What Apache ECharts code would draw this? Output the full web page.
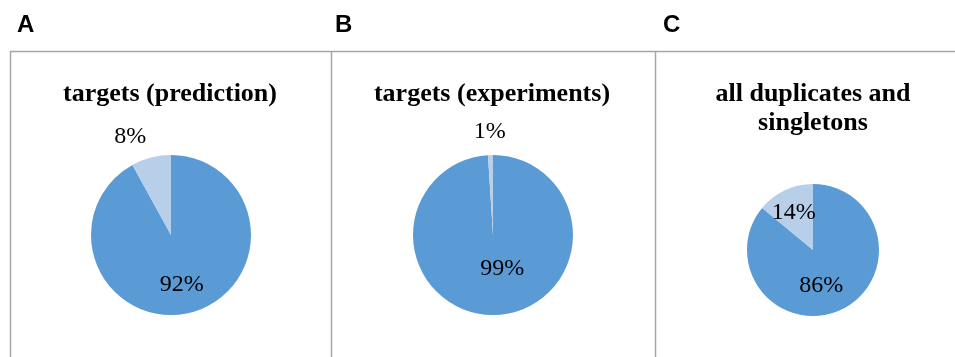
<!DOCTYPE html>
<html>
<head>
<meta charset="utf-8">
<title>Pie panels</title>
<script src="https://cdn.jsdelivr.net/npm/echarts@6/dist/echarts.min.js"></script>
<style>
  html, body { margin: 0; padding: 0; background: #ffffff; }
  #chart { width: 955px; height: 357px; }
</style>
</head>
<body>
<div id="chart"></div>
<script>
// Panel letters and titles
const panelLetters = ['A', 'B', 'C'];
const panelTitles = ['targets (prediction)', 'targets (experiments)', 'all duplicates and\nsingletons'];

// Slice shares (percent) per panel: main share first, remainder second
const mainShare = [92, 99, 86];
const restShare = [8, 1, 14];

const sliceColors = ['#5b9bd5', '#b7cfe9'];
const borderColor = '#a6a6a6';

// Panel geometry (pixels)
const panelLeft = [10, 331, 655];
const panelTop = 51;
const letterX = [17, 335, 663];
const titleX = [170, 492, 813];
const pieCenters = [[171, 235], [493, 235], [813, 250]];
const pieRadii = [80, 80, 66];
// Label nudges relative to the 'inside' anchor: [main, rest]
const labelOffsets = [
  [[0, 8], [-30, -57]],
  [[8, -9], [-2, -60]],
  [[-7, 3], [-4, -5]]
];

const chart = echarts.init(document.getElementById('chart'), null, { renderer: 'canvas' });

const graphics = [];
// frame: top rule and panel separators
graphics.push({
  type: 'line',
  shape: { x1: panelLeft[0], y1: panelTop + 0.5, x2: 955, y2: panelTop + 0.5 },
  style: { stroke: borderColor, lineWidth: 1.5 },
  silent: true
});
panelLeft.forEach(function (x) {
  graphics.push({
    type: 'line',
    shape: { x1: x + 0.5, y1: panelTop, x2: x + 0.5, y2: 357 },
    style: { stroke: borderColor, lineWidth: 1.5 },
    silent: true
  });
});
panelLetters.forEach(function (t, i) {
  graphics.push({
    type: 'text',
    style: {
      text: t, x: letterX[i], y: 25,
      align: 'left', verticalAlign: 'middle',
      font: 'bold 24px "Liberation Sans", Arial, sans-serif',
      fill: '#000000'
    },
    silent: true
  });
});
panelTitles.forEach(function (t, i) {
  graphics.push({
    type: 'text',
    style: {
      text: t, x: titleX[i], y: 80,
      align: 'center', verticalAlign: 'top',
      font: 'bold 26px "Liberation Serif", "Times New Roman", serif',
      lineHeight: 29,
      fill: '#000000'
    },
    silent: true
  });
});

const series = mainShare.map(function (m, i) {
  return {
    type: 'pie',
    center: pieCenters[i],
    radius: [0, pieRadii[i]],
    startAngle: 90,
    clockwise: true,
    animation: false,
    silent: true,
    avoidLabelOverlap: false,
    itemStyle: { borderWidth: 0 },
    label: {
      show: true,
      position: 'inside',
      formatter: function (p) { return p.value + '%'; },
      fontFamily: '"Liberation Serif", "Times New Roman", serif',
      fontSize: 24,
      color: '#000000'
    },
    labelLine: { show: false },
    data: [
      { value: m, name: 'main', itemStyle: { color: sliceColors[0] },
        label: { offset: labelOffsets[i][0] } },
      { value: restShare[i], name: 'rest', itemStyle: { color: sliceColors[1] },
        label: { offset: labelOffsets[i][1] } }
    ]
  };
});

chart.setOption({
  backgroundColor: '#ffffff',
  animation: false,
  graphic: graphics,
  series: series
});
</script>
</body>
</html>
